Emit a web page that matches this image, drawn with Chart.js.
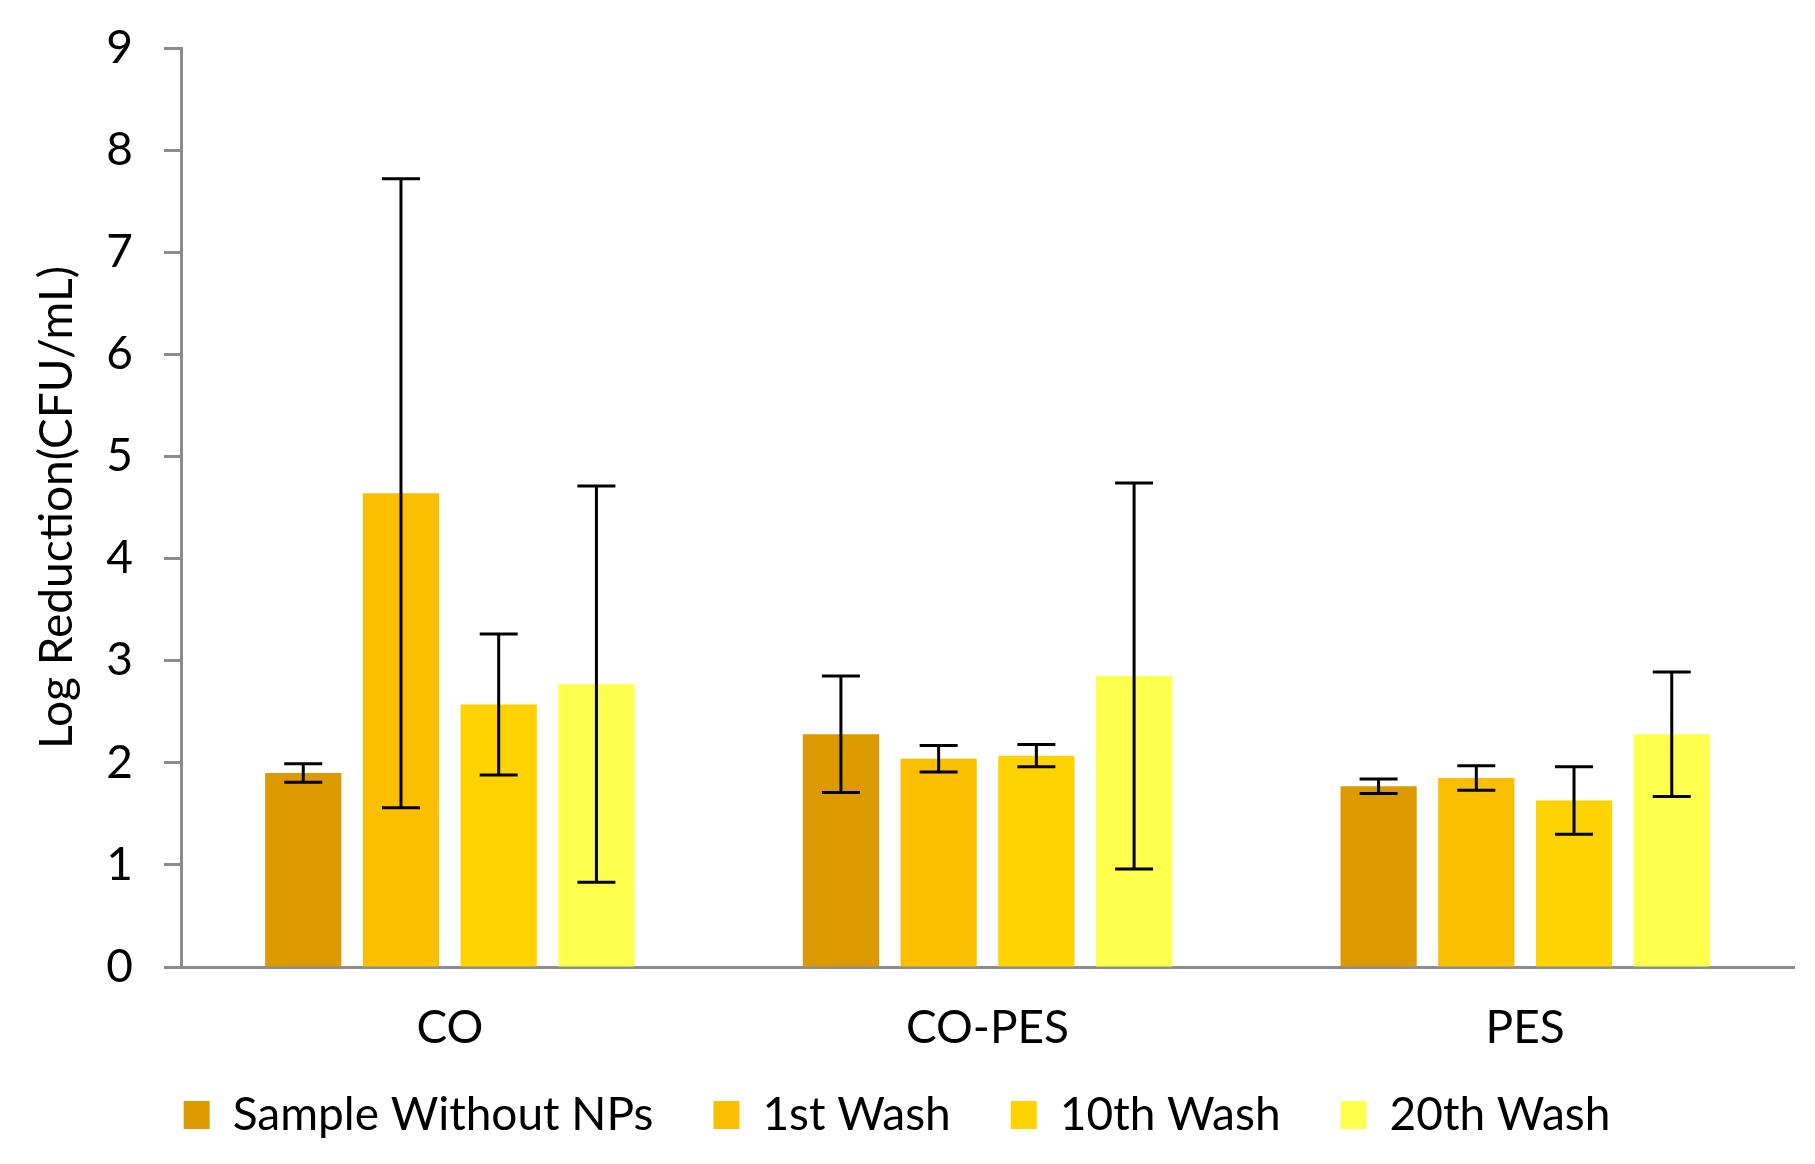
<!DOCTYPE html>
<html>
<head>
<meta charset="utf-8">
<script src="https://cdn.jsdelivr.net/npm/chart.js@4/dist/chart.umd.min.js"></script>
<style>
    html, body { margin: 0; padding: 0; background: #fff; }
    #wrap { width: 1815px; height: 1164px; }
</style>
</head>
<body>
<div id="wrap"><canvas id="chart"></canvas></div>
<script>
const categories = ['CO', 'CO-PES', 'PES'];
const seriesNames = ['Sample Without NPs', '1st Wash', '10th Wash', '20th Wash'];

// mean log reduction per fabric
const sampleWithoutNPs = [1.90, 2.28, 1.77];
const wash1 = [4.64, 2.04, 1.85];
const wash10 = [2.57, 2.07, 1.63];
const wash20 = [2.77, 2.85, 2.28];

// +/- error (symmetric)
const errSample = [0.09, 0.57, 0.07];
const errWash1 = [3.08, 0.13, 0.12];
const errWash10 = [0.69, 0.11, 0.33];
const errWash20 = [1.94, 1.89, 0.61];

const yTicks = [0, 1, 2, 3, 4, 5, 6, 7, 8, 9];

const colors = ['#dc9a00', '#f9bf00', '#ffd300', '#ffff4d'];
const FONT = 'Lato, "Open Sans", sans-serif';

const errorBars = {
    id: 'errorBars',
    afterDatasetsDraw(chart) {
        const ctx = chart.ctx;
        const y = chart.scales.y;
        ctx.save();
        ctx.strokeStyle = '#000';
        ctx.lineWidth = 3;
        chart.data.datasets.forEach((ds, i) => {
            const meta = chart.getDatasetMeta(i);
            meta.data.forEach((bar, j) => {
                const v = ds.data[j];
                const e = ds.errors[j];
                const top = y.getPixelForValue(v + e);
                const bot = y.getPixelForValue(v - e);
                const cap = 19;
                ctx.beginPath();
                ctx.moveTo(bar.x, top);
                ctx.lineTo(bar.x, bot);
                ctx.moveTo(bar.x - cap, top);
                ctx.lineTo(bar.x + cap, top);
                ctx.moveTo(bar.x - cap, bot);
                ctx.lineTo(bar.x + cap, bot);
                ctx.stroke();
            });
        });
        ctx.restore();
    }
};

const values = [sampleWithoutNPs, wash1, wash10, wash20];
const errors = [errSample, errWash1, errWash10, errWash20];

new Chart(document.getElementById('chart'), {
    type: 'bar',
    data: {
        labels: categories,
        datasets: seriesNames.map((name, i) => ({
            label: name,
            data: values[i],
            errors: errors[i],
            backgroundColor: colors[i],
            categoryPercentage: 0.727,
            barPercentage: 0.78
        }))
    },
    options: {
        responsive: true,
        maintainAspectRatio: false,
        animation: false,
        devicePixelRatio: 1,
        layout: { padding: { top: 48, right: 21, left: 0, bottom: 16 } },
        plugins: {
            legend: {
                position: 'bottom',
                labels: {
                    boxWidth: 26,
                    boxHeight: 28,
                    padding: 60,
                    color: '#000',
                    font: { family: FONT, size: 46 }
                }
            },
            tooltip: { enabled: false }
        },
        scales: {
            x: {
                grid: { display: false, drawTicks: false },
                border: { color: '#8c8c8c', width: 3 },
                ticks: {
                    color: '#000',
                    padding: 34,
                    font: { family: FONT, size: 46 }
                },
                afterFit: (scale) => {
                    scale.height = 65;
                    // labels sit below the short axis box, so don't clip them to it
                    scale._computeLabelArea = () => undefined;
                }
            },
            y: {
                min: 0,
                max: 9,
                afterBuildTicks: (scale) => { scale.ticks = yTicks.map(v => ({ value: v })); },
                grid: {
                    drawOnChartArea: false,
                    tickLength: 17,
                    tickColor: '#8c8c8c',
                    tickWidth: 3
                },
                border: { color: '#8c8c8c', width: 3 },
                ticks: {
                    color: '#000',
                    padding: 31,
                    font: { family: FONT, size: 46 }
                },
                title: {
                    display: true,
                    text: 'Log Reduction(CFU/mL)',
                    color: '#000',
                    padding: { top: 30, bottom: 0 },
                    font: { family: FONT, size: 46 }
                },
                afterFit: (scale) => {
                    scale.width = 181;
                    scale.paddingTop = 0;
                }
            }
        }
    },
    plugins: [errorBars]
});
</script>
</body>
</html>
